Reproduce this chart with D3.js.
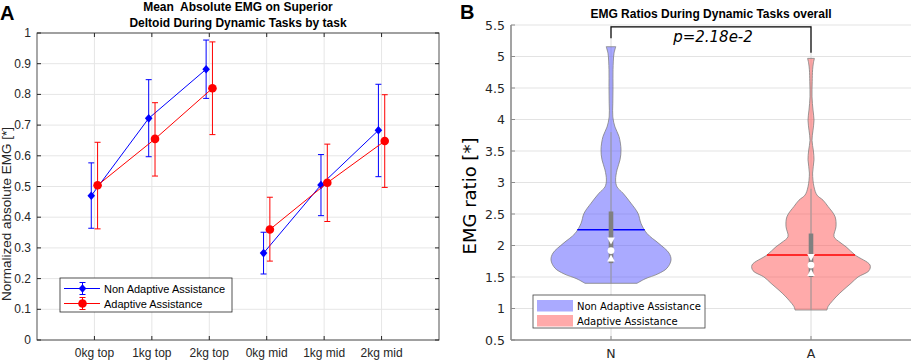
<!DOCTYPE html>
<html>
<head>
<meta charset="utf-8">
<script src="https://cdn.jsdelivr.net/npm/d3@7"></script>
<style>
body{margin:0;background:#fff;}
svg{display:block;}
</style>
</head>
<body>
<div id="chart-area"></div>
<script>
// ---- panel A data ----
var tasks=["0kg top","1kg top","2kg top","0kg mid","1kg mid","2kg mid"];
var nonAdaptMean=[0.470,0.722,0.882,0.283,0.505,0.683];
var nonAdaptLow=[0.364,0.597,0.787,0.215,0.405,0.532];
var nonAdaptHigh=[0.577,0.848,0.977,0.351,0.604,0.833];
var adaptMean=[0.504,0.655,0.820,0.360,0.512,0.648];
var adaptLow=[0.362,0.534,0.669,0.257,0.386,0.497];
var adaptHigh=[0.644,0.773,0.971,0.465,0.638,0.799];
var yTicksA=[0,0.1,0.2,0.3,0.4,0.5,0.6,0.7,0.8,0.9,1];

// ---- panel B data ----
var groups=["N","A"];
var yTicksB=[0.5,1,1.5,2,2.5,3,3.5,4,4.5,5,5.5];
// violin outlines: value and half width (in category units)
var nViolinV=[5.155,5.05,4.79,4.52,4.26,4.04,3.88,3.73,3.52,3.36,3.2,3.04,2.93,2.83,2.67,2.51,2.35,2.19,2.03,1.88,1.77,1.64,1.55,1.47,1.40];
var nViolinW=[0.024,0.015,0.010,0.010,0.009,0.009,0.020,0.040,0.050,0.045,0.030,0.023,0.030,0.060,0.100,0.135,0.150,0.180,0.240,0.290,0.300,0.280,0.235,0.170,0.130];
var aViolinV=[4.97,4.9,4.79,4.6,4.36,4.15,3.99,3.83,3.67,3.5,3.36,3.15,2.93,2.8,2.72,2.62,2.46,2.3,2.14,2.05,1.98,1.85,1.69,1.6,1.5,1.4,1.29,1.2,1.13,1.03,0.976];
var aViolinW=[0.017,0.012,0.008,0.006,0.005,0.010,0.015,0.010,0.005,0.012,0.015,0.008,0.015,0.030,0.060,0.085,0.120,0.125,0.115,0.145,0.175,0.220,0.295,0.290,0.235,0.200,0.160,0.130,0.110,0.085,0.080];
// box stats: q1, median, q3, mean, notch low, notch high, whisker low, whisker high
var nStats=[1.72,1.92,2.54,2.25,1.80,2.07,1.40,3.80];
var aStats=[1.50,1.69,2.19,1.85,1.57,1.81,0.976,2.90];
var pText="p=2.18e-2";
var bracket=[5.29,5.47,5.06];   // left leg end, top, right leg end

var W=913,H=361;
var svg=d3.select("#chart-area").append("svg")
    .attr("width",W)
    .attr("height",H);

// ================= panel A =================
var xA=d3.scaleLinear().domain([0,tasks.length+1]).range([37,439]);
var yA=d3.scaleLinear().domain([0,1]).range([340,33]);
var ink="#262626";
var fontA="'Liberation Sans', Arial, sans-serif";

var gA=svg.append("g");

// grid
gA.selectAll(".ygrid").data(yTicksA).enter().append("line")
    .attr("x1",xA(0)).attr("x2",xA(7))
    .attr("y1",d=>yA(d)).attr("y2",d=>yA(d))
    .attr("stroke","#e6e6e6").attr("stroke-width",1);
gA.selectAll(".xgrid").data(tasks).enter().append("line")
    .attr("x1",(d,i)=>xA(i+1)).attr("x2",(d,i)=>xA(i+1))
    .attr("y1",yA(0)).attr("y2",yA(1))
    .attr("stroke","#e6e6e6").attr("stroke-width",1);

// ticks pointing inward on all four sides
yTicksA.forEach(function(v){
    gA.append("line").attr("x1",xA(0)).attr("x2",xA(0)+4).attr("y1",yA(v)).attr("y2",yA(v)).attr("stroke",ink);
    gA.append("line").attr("x1",xA(7)).attr("x2",xA(7)-4).attr("y1",yA(v)).attr("y2",yA(v)).attr("stroke",ink);
    gA.append("text")
        .attr("x",xA(0)-6).attr("y",yA(v)+4)
        .attr("text-anchor","end")
        .attr("font-family",fontA).attr("font-size","12px").attr("fill",ink)
        .text(d3.format("~g")(v));
});
tasks.forEach(function(t,i){
    gA.append("line").attr("x1",xA(i+1)).attr("x2",xA(i+1)).attr("y1",yA(0)).attr("y2",yA(0)-4).attr("stroke",ink);
    gA.append("line").attr("x1",xA(i+1)).attr("x2",xA(i+1)).attr("y1",yA(1)).attr("y2",yA(1)+4).attr("stroke",ink);
    gA.append("text")
        .attr("x",xA(i+1)).attr("y",357)
        .attr("text-anchor","middle")
        .attr("font-family",fontA).attr("font-size","12px").attr("fill",ink)
        .text(t);
});

gA.append("rect")
    .attr("x",xA(0)).attr("y",yA(1))
    .attr("width",xA(7)-xA(0)).attr("height",yA(0)-yA(1))
    .attr("fill","none").attr("stroke",ink).attr("stroke-width",0.8);

// series
function drawSeries(means,lows,highs,off,color,shape){
    var pts=means.map((m,i)=>({x:i+1+off,m:m,lo:lows[i],hi:highs[i]}));
    var line=d3.line().x(d=>xA(d.x)).y(d=>yA(d.m));
    // top and mid tasks are joined separately
    [pts.slice(0,3),pts.slice(3,6)].forEach(function(seg){
        gA.append("path").attr("d",line(seg))
            .attr("fill","none").attr("stroke",color).attr("stroke-width",1);
    });
    pts.forEach(function(d){
        var cx=xA(d.x);
        gA.append("line").attr("x1",cx).attr("x2",cx).attr("y1",yA(d.lo)).attr("y2",yA(d.hi)).attr("stroke",color);
        gA.append("line").attr("x1",cx-3).attr("x2",cx+3).attr("y1",yA(d.lo)).attr("y2",yA(d.lo)).attr("stroke",color);
        gA.append("line").attr("x1",cx-3).attr("x2",cx+3).attr("y1",yA(d.hi)).attr("y2",yA(d.hi)).attr("stroke",color);
        marker(gA,cx,yA(d.m),color,shape);
    });
}
function marker(g,cx,cy,color,shape){
    if(shape=="diamond"){
        g.append("path")
            .attr("d","M"+cx+","+(cy-4.3)+"L"+(cx+3.8)+","+cy+"L"+cx+","+(cy+4.3)+"L"+(cx-3.8)+","+cy+"Z")
            .attr("fill",color);
    } else {
        g.append("circle").attr("cx",cx).attr("cy",cy).attr("r",4.3).attr("fill",color);
    }
}
drawSeries(nonAdaptMean,nonAdaptLow,nonAdaptHigh,-0.055,"#0000ff","diamond");
drawSeries(adaptMean,adaptLow,adaptHigh,0.055,"#ff0000","circle");

// legend A
var legA=gA.append("g").attr("transform","translate(60,278)");
legA.append("rect").attr("width",172).attr("height",34)
    .attr("fill","#fff").attr("stroke",ink).attr("stroke-width",0.8);
[["Non Adaptive Assistance","#0000ff","diamond"],["Adaptive Assistance","#ff0000","circle"]].forEach(function(e,i){
    var cy=10.5+i*15;
    legA.append("line").attr("x1",4).attr("x2",40).attr("y1",cy).attr("y2",cy).attr("stroke",e[1]);
    legA.append("line").attr("x1",22.5).attr("x2",22.5).attr("y1",cy-6).attr("y2",cy+6).attr("stroke",e[1]);
    legA.append("line").attr("x1",19.5).attr("x2",25.5).attr("y1",cy-6).attr("y2",cy-6).attr("stroke",e[1]);
    legA.append("line").attr("x1",19.5).attr("x2",25.5).attr("y1",cy+6).attr("y2",cy+6).attr("stroke",e[1]);
    marker(legA,22.5,cy,e[1],e[2]);
    legA.append("text").attr("x",44).attr("y",cy+4)
        .attr("font-family",fontA).attr("font-size","11px").attr("fill","#000")
        .text(e[0]);
});

// titles and labels
gA.append("text").attr("x",238).attr("y",11)
    .attr("text-anchor","middle").attr("font-family",fontA).attr("font-size","12px").attr("font-weight","bold")
    .text("Mean  Absolute EMG on Superior").style("white-space","pre");
gA.append("text").attr("x",238).attr("y",27)
    .attr("text-anchor","middle").attr("font-family",fontA).attr("font-size","12px").attr("font-weight","bold")
    .text("Deltoid During Dynamic Tasks by task");
gA.append("text")
    .attr("transform","translate(11,214) rotate(-90)")
    .attr("text-anchor","middle").attr("font-family",fontA).attr("font-size","13.5px").attr("fill",ink)
    .text("Normalized absolute EMG [*]");
svg.append("text").attr("x",0).attr("y",20)
    .attr("font-family",fontA).attr("font-size","20px").attr("font-weight","bold")
    .text("A");

// ================= panel B =================
var xB=d3.scaleLinear().domain([0.5,2.5]).range([511,911]);
var yB=d3.scaleLinear().domain([0.5,5.5]).range([340,25]);
var fontB="'DejaVu Sans', Verdana, sans-serif";
var axisGray="#8c8c8c";

var gB=svg.append("g");

gB.selectAll(".ygridB").data(yTicksB).enter().append("line")
    .attr("x1",xB(0.5)).attr("x2",xB(2.5))
    .attr("y1",d=>yB(d)).attr("y2",d=>yB(d))
    .attr("stroke","#e3e3e3").attr("stroke-width",1);
gB.selectAll(".xgridB").data(groups).enter().append("line")
    .attr("x1",(d,i)=>xB(i+1)).attr("x2",(d,i)=>xB(i+1))
    .attr("y1",yB(0.5)).attr("y2",yB(5.5))
    .attr("stroke","#dcdcdc").attr("stroke-width",1);

function drawViolin(vals,widths,stats,pos,fill,lineColor){
    var prof=vals.map((v,i)=>({v:v,w:widths[i]}));
    var area=d3.area()
        .y(d=>yB(d.v))
        .x0(d=>xB(pos-d.w))
        .x1(d=>xB(pos+d.w))
        .curve(d3.curveCatmullRom);
    gB.append("path").attr("d",area(prof))
        .attr("fill",fill).attr("fill-opacity",0.5)
        .attr("stroke","#808080").attr("stroke-width",0.8);
    // whisker
    gB.append("line").attr("x1",xB(pos)).attr("x2",xB(pos))
        .attr("y1",yB(stats[6])).attr("y2",yB(stats[7]))
        .attr("stroke","#9a9a9a").attr("stroke-width",1);
    // mean line across violin width
    var i=d3.bisector(d=>-d.v).left(prof,-stats[3]);
    var a=prof[Math.max(i-1,0)],b=prof[Math.min(i,prof.length-1)];
    var t=(a.v==b.v)?0:(a.v-stats[3])/(a.v-b.v);
    var hw=a.w+(b.w-a.w)*t;
    gB.append("line").attr("x1",xB(pos-hw)).attr("x2",xB(pos+hw))
        .attr("y1",yB(stats[3])).attr("y2",yB(stats[3]))
        .attr("stroke",lineColor).attr("stroke-width",1.5);
    // box
    gB.append("rect")
        .attr("x",xB(pos)-2.3).attr("width",4.6)
        .attr("y",yB(stats[2])).attr("height",yB(stats[0])-yB(stats[2]))
        .attr("fill","#808080");
    // notches
    var cx=xB(pos),yh=yB(stats[5]),yl=yB(stats[4]);
    gB.append("path").attr("d","M"+(cx-3.8)+","+(yh-3.5)+"L"+(cx+3.8)+","+(yh-3.5)+"L"+cx+","+(yh+3.5)+"Z").attr("fill","#fff");
    gB.append("path").attr("d","M"+(cx-3.8)+","+(yl+3.5)+"L"+(cx+3.8)+","+(yl+3.5)+"L"+cx+","+(yl-3.5)+"Z").attr("fill","#fff");
    gB.append("circle").attr("cx",cx).attr("cy",yB(stats[1])).attr("r",3.4).attr("fill","#fff");
}
drawViolin(nViolinV,nViolinW,nStats,1,"#5555ff","#0000ff");
drawViolin(aViolinV,aViolinW,aStats,2,"#ff5555","#ff0000");

// axes
gB.append("line").attr("x1",xB(0.5)).attr("x2",xB(0.5)).attr("y1",yB(0.5)).attr("y2",yB(5.5))
    .attr("stroke",axisGray).attr("stroke-width",1.6);
gB.append("line").attr("x1",xB(0.5)).attr("x2",xB(2.5)).attr("y1",yB(0.5)).attr("y2",yB(0.5))
    .attr("stroke",axisGray).attr("stroke-width",1.6);
yTicksB.forEach(function(v){
    gB.append("line").attr("x1",xB(0.5)).attr("x2",xB(0.5)+4).attr("y1",yB(v)).attr("y2",yB(v)).attr("stroke",axisGray);
    gB.append("text").attr("x",xB(0.5)-6).attr("y",yB(v)+4.5)
        .attr("text-anchor","end").attr("font-family",fontB).attr("font-size","12.5px").attr("fill",ink)
        .text(v);
});
groups.forEach(function(gname,i){
    gB.append("line").attr("x1",xB(i+1)).attr("x2",xB(i+1)).attr("y1",yB(0.5)).attr("y2",yB(0.5)-4).attr("stroke",axisGray);
    gB.append("text").attr("x",xB(i+1)).attr("y",358)
        .attr("text-anchor","middle").attr("font-family",fontB).attr("font-size","12.5px").attr("fill",ink)
        .text(gname);
});

// significance bracket
gB.append("path")
    .attr("d","M"+xB(1)+","+yB(bracket[0])+"V"+yB(bracket[1])+"H"+xB(2)+"V"+yB(bracket[2]))
    .attr("fill","none").attr("stroke","#000").attr("stroke-width",1.2);
gB.append("text").attr("x",xB(1.51)).attr("y",yB(5.23))
    .attr("text-anchor","middle").attr("font-family",fontB).attr("font-size","15px").attr("font-style","italic")
    .text(pText);

// legend B
var legB=gB.append("g").attr("transform","translate(533,295)");
legB.append("rect").attr("width",172).attr("height",33)
    .attr("fill","#fff").attr("stroke","#404040").attr("stroke-width",0.8);
[["Non Adaptive Assistance","#5555ff"],["Adaptive Assistance","#ff5555"]].forEach(function(e,i){
    legB.append("rect").attr("x",4).attr("y",5+i*15).attr("width",36).attr("height",11.5)
        .attr("fill",e[1]).attr("fill-opacity",0.5);
    legB.append("text").attr("x",44).attr("y",15+i*15)
        .attr("font-family",fontB).attr("font-size","10px").attr("fill","#000")
        .text(e[0]);
});

svg.append("text").attr("x",711).attr("y",17.5)
    .attr("text-anchor","middle").attr("font-family",fontA).attr("font-size","12px").attr("font-weight","bold")
    .text("EMG Ratios During Dynamic Tasks overall");
svg.append("text")
    .attr("transform","translate(476,196) rotate(-90)")
    .attr("text-anchor","middle").attr("font-family",fontB).attr("font-size","18px").attr("fill","#000")
    .text("EMG ratio [*]");
svg.append("text").attr("x",460).attr("y",19)
    .attr("font-family",fontA).attr("font-size","20px").attr("font-weight","bold")
    .text("B");
</script>
</body>
</html>
